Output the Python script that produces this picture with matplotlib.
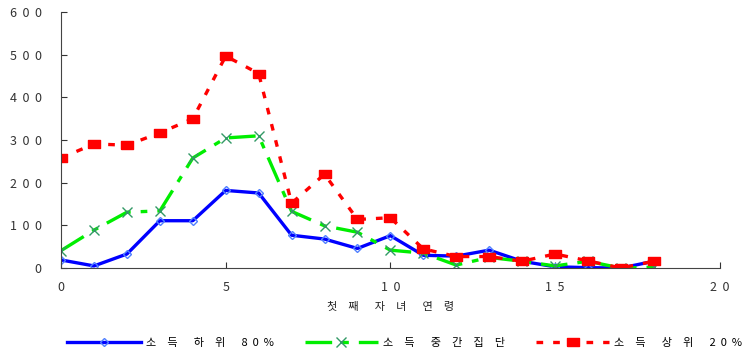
import matplotlib
matplotlib.use('Agg')
import matplotlib.pyplot as plt
from matplotlib.ticker import FuncFormatter

plt.rcParams['font.family'] = ['Noto Sans CJK KR', 'DejaVu Sans']

# 첫째 자녀 연령
ages = list(range(19))
low80 = [19, 5, 33, 111, 111, 182, 176, 77, 68, 46, 76, 30, 28, 42, 16, 3, 1, 0, 16]
middle = [41, 89, 131, 134, 258, 305, 310, 133, 99, 84, 42, 35, 7, 25, 16, 5, 16, 0, 2]
top20 = [258, 291, 288, 317, 350, 497, 456, 152, 220, 114, 118, 45, 27, 27, 16, 33, 17, 0, 16]

labels = ['소득 하위 80%', '소득 중간집단', '소득 상위 20%']
xlabel = '첫째 자녀 연령'


def spaced(s):
    # original text has wide letter spacing
    words = []
    for w in s.split(' '):
        out = w[0]
        for a, b in zip(w, w[1:]):
            if a.isdigit() or b.isdigit() or b == '%':
                out += '  '
            else:
                out += '\u3000'
            out += b
        words.append(out)
    return '\u3000  '.join(words)


# wide flat box like the original's markers
rect = [(-1.5, -1), (1.5, -1), (1.5, 1), (-1.5, 1), (-1.5, -1)]

fig = plt.figure(figsize=(7.45, 3.56), dpi=100)
ax = fig.add_axes([0.082, 0.247, 0.884, 0.719])

ax.plot(ages, low80, color='#0000ff', lw=2.4, marker='D', ms=4.5,
        mfc='none', mec='#5080ff', mew=1.0, label=spaced(labels[0]))
ax.plot(ages, middle, color='#00ee00', lw=2.4, ls=(0, (8, 3, 2, 3)), marker='x',
        ms=7, mec='#339966', mew=1.0, label=spaced(labels[1]))
ax.plot(ages, top20, color='#ff0000', lw=2.4, ls=(0, (2, 3)), marker=rect,
        ms=8.5, mfc='#ff0000', mec='#ff0000', label=spaced(labels[2]))

ax.set_xlim(0, 20)
ax.set_ylim(0, 600)
ax.set_xticks([0, 5, 10, 15, 20])
ax.set_yticks(range(0, 601, 100))
fmt = FuncFormatter(lambda v, p: '  '.join(str(int(v))))
ax.xaxis.set_major_formatter(fmt)
ax.yaxis.set_major_formatter(fmt)
ax.tick_params(labelsize=9, colors='#333333', direction='in', length=4, width=0.8)
ax.tick_params(axis='y', pad=14)
ax.tick_params(axis='x', pad=9)
for s in ['top', 'right']:
    ax.spines[s].set_visible(False)
for s in ['left', 'bottom']:
    ax.spines[s].set_color('#444444')
    ax.spines[s].set_linewidth(0.8)

ax.set_xlabel(spaced(xlabel), fontsize=8, color='#222222', labelpad=6)

ax.legend(loc='center', bbox_to_anchor=(0.522, -0.293), ncol=3, frameon=False,
          fontsize=8, handlelength=6.6, columnspacing=2.8, handletextpad=0.45)

fig.savefig('out.png', dpi=100)
